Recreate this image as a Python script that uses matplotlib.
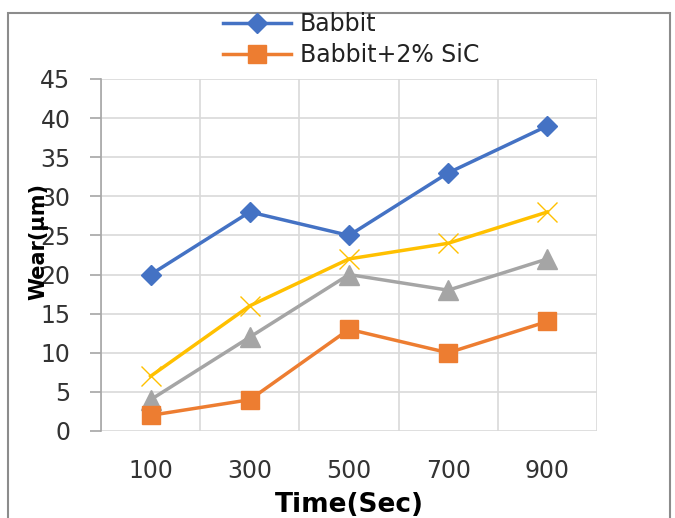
import matplotlib.pyplot as plt
import matplotlib.patches as patches
import numpy as np

# data
time_sec = ["100", "300", "500", "700", "900"]
babbit = [20, 28, 25, 33, 39]
babbit_sic2 = [2, 4, 13, 10, 14]
series_yellow = [7, 16, 22, 24, 28]
series_gray = [4, 12, 20, 18, 22]

plt.rcParams['font.family'] = ['DejaVu Sans']

fig = plt.figure(figsize=(6.75, 5.18), dpi=100)
ax = fig.add_axes([101 / 675, 1 - 431 / 518, 496 / 675, 352 / 518])

x = np.arange(1, len(time_sec) + 1)

l1, = ax.plot(x, babbit, color="#4472C4", lw=2.5, marker="D", ms=10.5, label="Babbit", zorder=5)
l2, = ax.plot(x, babbit_sic2, color="#ED7D31", lw=2.5, marker="s", ms=13, label="Babbit+2% SiC", zorder=5)
ax.plot(x, series_yellow, color="#FFC000", lw=2.5, marker="x", ms=14, mew=1, zorder=4)
ax.plot(x, series_gray, color="#A5A5A5", lw=2.5, marker="^", ms=14, zorder=3)

ax.set_xlim(0.5, 5.5)
ax.set_ylim(0, 45)
ax.set_yticks(range(0, 46, 5))
ax.set_xticks(x)
ax.set_xticklabels(time_sec)
ax.set_xticks(np.arange(0.5, 6, 1), minor=True)

# grid like excel
ax.grid(True, which="major", axis="y", color="#D9D9D9", lw=1.2)
ax.grid(True, which="minor", axis="x", color="#D9D9D9", lw=1.2)
ax.set_axisbelow(True)

for s in ["top", "right", "bottom"]:
    ax.spines[s].set_visible(False)
ax.spines["left"].set_color("#A6A6A6")
ax.spines["left"].set_linewidth(1.2)

ax.tick_params(axis="y", length=8, width=1.2, color="#A6A6A6", pad=14, labelsize=17, labelcolor="#333333")
ax.tick_params(axis="x", which="both", length=0, pad=20, labelsize=17, labelcolor="#333333")

fig.text(349 / 675, 1 - 505 / 518, "Time(Sec)", ha="center", va="center",
         fontsize=19, fontweight="bold")
fig.text(38 / 675, 1 - 242 / 518, "Wear(µm)", ha="center", va="center",
         rotation=90, fontsize=15, fontweight="bold")

fig.legend(handles=[l1, l2], loc="upper left", bbox_to_anchor=(223 / 675, 1 - 12 / 518),
           frameon=False, fontsize=17, borderpad=0, borderaxespad=0,
           handlelength=2.9, handletextpad=0.35, labelspacing=0.3,
           labelcolor="#222222")

# outer chart border
fig.patches.append(patches.Rectangle((8 / 675, -0.05), 662 / 675, 1.05 - 13 / 518,
                                     transform=fig.transFigure, fill=False,
                                     edgecolor="#8C8C8C", lw=1.5))

fig.savefig("out.png", dpi=100)
